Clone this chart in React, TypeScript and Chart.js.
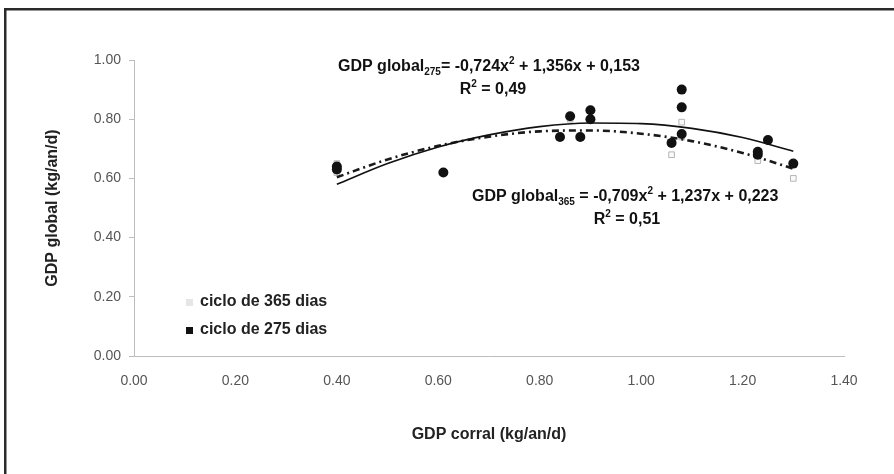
import React, { useEffect, useRef } from "react";
import { Chart, registerables } from "chart.js";

Chart.register(...registerables);

// ---- data ----
const seriesNames = ["ciclo de 365 dias", "ciclo de 275 dias"];
const xTitle = "GDP corral (kg/an/d)";
const yTitle = "GDP global (kg/an/d)";

const x365 = [0.40, 0.40, 0.84, 0.86, 0.88, 0.90, 0.90, 1.06, 1.08, 1.08, 1.23, 1.30];
const y365 = [0.65, 0.62, 0.74, 0.80, 0.74, 0.83, 0.80, 0.68, 0.79, 0.74, 0.66, 0.60];

const x275 = [0.40, 0.40, 0.61, 0.84, 0.86, 0.88, 0.90, 0.90, 1.06, 1.08, 1.08, 1.08, 1.23, 1.23, 1.25, 1.30];
const y275 = [0.64, 0.63, 0.62, 0.74, 0.81, 0.74, 0.83, 0.80, 0.72, 0.90, 0.84, 0.75, 0.69, 0.68, 0.73, 0.65];

// trend curves (x positions and values)
const trendX = [0.40, 0.50, 0.60, 0.70, 0.80, 0.90, 1.00, 1.10, 1.20, 1.30];
const trend275 = [0.580, 0.650, 0.706, 0.747, 0.775, 0.787, 0.785, 0.769, 0.738, 0.692];
const trend365 = [0.604, 0.664, 0.710, 0.741, 0.759, 0.762, 0.751, 0.726, 0.686, 0.633];

const eq275 = [
  { t: "GDP global", k: "n" }, { t: "275", k: "sub" }, { t: "= -0,724x", k: "n" }, { t: "2", k: "sup" },
  { t: " + 1,356x + 0,153", k: "n" },
];
const r275 = [{ t: "R", k: "n" }, { t: "2", k: "sup" }, { t: " = 0,49", k: "n" }];
const eq365 = [
  { t: "GDP global", k: "n" }, { t: "365", k: "sub" }, { t: " = -0,709x", k: "n" }, { t: "2", k: "sup" },
  { t: " + 1,237x + 0,223", k: "n" },
];
const r365 = [{ t: "R", k: "n" }, { t: "2", k: "sup" }, { t: " = 0,51", k: "n" }];

const xTicks = [0, 0.2, 0.4, 0.6, 0.8, 1.0, 1.2, 1.4];
const yTicks = [0, 0.2, 0.4, 0.6, 0.8, 1.0];

const FONT = "'Liberation Sans', Arial, sans-serif";

function pts(xs: number[], ys: number[]) {
  return xs.map((x, i) => ({ x, y: ys[i] }));
}

function richWidth(ctx: CanvasRenderingContext2D, parts: { t: string; k: string }[], size: number) {
  let w = 0;
  for (const p of parts) {
    const s = p.k === "n" ? size : Math.round(size * 0.6);
    ctx.font = `bold ${s}px ${FONT}`;
    w += ctx.measureText(p.t).width;
  }
  return w;
}

function drawRich(
  ctx: CanvasRenderingContext2D,
  parts: { t: string; k: string }[],
  x: number,
  y: number,
  size: number,
  align: "left" | "center"
) {
  let cx = align === "center" ? x - richWidth(ctx, parts, size) / 2 : x;
  ctx.textAlign = "left";
  ctx.textBaseline = "middle";
  ctx.fillStyle = "#111";
  for (const p of parts) {
    const s = p.k === "n" ? size : Math.round(size * 0.6);
    ctx.font = `bold ${s}px ${FONT}`;
    const dy = p.k === "sub" ? size * 0.3 : p.k === "sup" ? -size * 0.35 : 0;
    ctx.fillText(p.t, cx, y + dy);
    cx += ctx.measureText(p.t).width;
  }
}

const decorPlugin = {
  id: "decor",
  beforeDraw(chart: any) {
    const ctx = chart.ctx as CanvasRenderingContext2D;
    ctx.save();
    ctx.fillStyle = "#fff";
    ctx.fillRect(0, 0, chart.width, chart.height);
    ctx.strokeStyle = "#2a2a2a";
    ctx.lineWidth = 2.5;
    ctx.beginPath();
    ctx.moveTo(5.25, chart.height);
    ctx.lineTo(5.25, 9.25);
    ctx.lineTo(chart.width, 9.25);
    ctx.stroke();
    ctx.restore();
  },
  afterDraw(chart: any) {
    const ctx = chart.ctx as CanvasRenderingContext2D;
    ctx.save();
    drawRich(ctx, eq275, 338, 67, 16, "left");
    drawRich(ctx, r275, 493, 90, 16, "center");
    drawRich(ctx, eq365, 472, 197, 16, "left");
    drawRich(ctx, r365, 627, 220, 16, "center");

    // legend
    ctx.font = `bold 16px ${FONT}`;
    ctx.textBaseline = "middle";
    ctx.textAlign = "left";
    ctx.fillStyle = "#e6e6e6";
    ctx.fillRect(186, 299, 7, 7);
    ctx.fillStyle = "#111";
    ctx.fillRect(186, 327, 7, 7);
    ctx.fillStyle = "#222";
    ctx.fillText(seriesNames[0], 200, 302);
    ctx.fillText(seriesNames[1], 200, 330);
    ctx.restore();
  },
};

export default function App() {
  const ref = useRef<HTMLCanvasElement>(null);
  useEffect(() => {
    if (!ref.current) return;
    const chart = new Chart(ref.current, {
      type: "scatter",
      data: {
        datasets: [
          {
            label: seriesNames[1],
            data: pts(x275, y275),
            pointStyle: "circle",
            pointRadius: 5,
            backgroundColor: "#111",
            borderColor: "#111",
            borderWidth: 0,
            order: 0,
          } as any,
          {
            label: "trend 275",
            type: "line",
            data: pts(trendX, trend275),
            borderColor: "#111",
            borderWidth: 1.6,
            pointRadius: 0,
            cubicInterpolationMode: "monotone",
            fill: false,
            order: 1,
          } as any,
          {
            label: "trend 365",
            type: "line",
            data: pts(trendX, trend365),
            borderColor: "#1a1a1a",
            borderWidth: 2.6,
            borderDash: [7, 4, 2, 4],
            pointRadius: 0,
            cubicInterpolationMode: "monotone",
            fill: false,
            order: 1,
          } as any,
          {
            label: seriesNames[0],
            data: pts(x365, y365),
            pointStyle: "rect",
            pointRadius: 4,
            backgroundColor: "#fafafa",
            borderColor: "#b5b5b5",
            borderWidth: 1,
            order: 2,
          } as any,
        ],
      },
      options: {
        responsive: false,
        animation: false,
        events: [],
        layout: { padding: { left: 0, top: 60, right: 50, bottom: 0 } },
        plugins: { legend: { display: false }, tooltip: { enabled: false } },
        scales: {
          x: {
            type: "linear",
            min: 0,
            max: 1.4,
            afterBuildTicks: (s: any) => {
              s.ticks = xTicks.map((v) => ({ value: v }));
            },
            afterFit: (s: any) => {
              s.height = 118;
            },
            ticks: {
              callback: (v: any) => Number(v).toFixed(2),
              color: "#555",
              font: { family: FONT, size: 14 },
              padding: 17,
              maxRotation: 0,
            },
            grid: { drawOnChartArea: false, drawTicks: false, color: "#bbb" },
            border: { color: "#bdbdbd", width: 1 },
            title: {
              display: true,
              text: xTitle,
              color: "#222",
              font: { family: FONT, size: 16, weight: "bold" },
              padding: { top: 0, bottom: 30 },
            },
          },
          y: {
            type: "linear",
            min: 0,
            max: 1,
            afterBuildTicks: (s: any) => {
              s.ticks = yTicks.map((v) => ({ value: v }));
            },
            afterFit: (s: any) => {
              s.width = 134;
            },
            ticks: {
              callback: (v: any) => Number(v).toFixed(2),
              color: "#555",
              font: { family: FONT, size: 14 },
              padding: 8,
            },
            grid: { drawOnChartArea: false, drawTicks: true, tickLength: 5, color: "#bdbdbd" },
            border: { color: "#bdbdbd", width: 1 },
            title: {
              display: true,
              text: yTitle,
              color: "#222",
              font: { family: FONT, size: 16, weight: "bold" },
              padding: { top: 43, bottom: 0 },
            },
          },
        },
      } as any,
      plugins: [decorPlugin],
    });
    return () => chart.destroy();
  }, []);
  return (
    <div style={{ position: "fixed", left: 0, top: 0, width: 894, height: 474 }}>
      <canvas ref={ref} width={894} height={474} style={{ display: "block" }} />
    </div>
  );
}
